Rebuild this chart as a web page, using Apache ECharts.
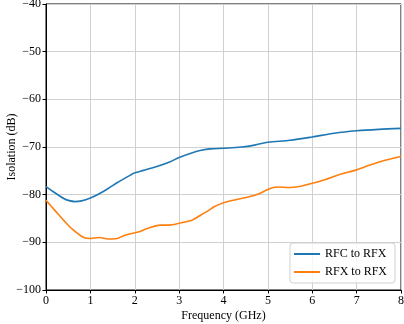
<!DOCTYPE html>
<html><head><meta charset="utf-8">
<script src="https://cdn.jsdelivr.net/npm/echarts@6/dist/echarts.min.js"></script>
<style>html,body{margin:0;padding:0;background:#fff}#c{width:404px;height:324px}</style>
</head><body><div id="c"></div>
<script>
const seriesNames = ["RFC to RFX", "RFX to RFX"];
const freqBlue = [0,0.2,0.4,0.5,0.65,0.8,1.0,1.2,1.4,1.6,1.9,2.0,2.2,2.5,2.8,3.0,3.3,3.5,3.7,4.0,4.4,4.7,5.0,5.5,6.0,6.5,7.0,7.5,8.0];
const valBlue = [-78.3,-79.6,-80.8,-81.2,-81.45,-81.3,-80.7,-79.8,-78.7,-77.5,-75.9,-75.4,-74.9,-74.1,-73.1,-72.2,-71.2,-70.7,-70.4,-70.25,-70.0,-69.6,-69.0,-68.6,-67.9,-67.1,-66.6,-66.3,-66.1];
const freqOrange = [0,0.2,0.4,0.6,0.85,1.0,1.2,1.4,1.6,1.75,1.9,2.1,2.25,2.45,2.6,2.75,3.0,3.3,3.5,3.65,3.8,4.0,4.3,4.6,4.8,5.0,5.2,5.5,5.7,6.0,6.3,6.6,7.0,7.3,7.6,8.0];
const valOrange = [-81.2,-83.3,-85.4,-87.3,-89.0,-89.2,-89.0,-89.3,-89.2,-88.6,-88.2,-87.8,-87.2,-86.6,-86.4,-86.4,-86.0,-85.3,-84.2,-83.4,-82.5,-81.7,-81.0,-80.4,-79.8,-78.9,-78.4,-78.5,-78.3,-77.6,-76.8,-75.8,-74.8,-73.8,-72.9,-72.0];
const xTicks = [0,1,2,3,4,5,6,7,8];
const yTicks = [-100,-90,-80,-70,-60,-50,-40];

const font = "'Liberation Serif', 'Times New Roman', serif";
const chart = echarts.init(document.getElementById('c'), null, {renderer:'canvas'});
const fmtMinus = v => String(v).replace('-', '\u2212');
chart.setOption({
  animation:false,
  textStyle:{fontFamily:font},
  grid:{left:46,right:3,top:4,bottom:34,containLabel:false,outerBoundsMode:'none',
    show:true,borderColor:'#000',borderWidth:1,backgroundColor:'transparent'},
  xAxis:{type:'value',min:xTicks[0],max:xTicks[xTicks.length-1],interval:1,
    name:'Frequency (GHz)',nameLocation:'middle',nameGap:20,nameMoveOverlap:false,
    nameTextStyle:{fontFamily:font,fontSize:12,color:'#000'},
    axisLine:{show:true,lineStyle:{color:'#000',width:1}},
    axisTick:{show:true,length:3.5,lineStyle:{color:'#000'}},
    axisLabel:{fontFamily:font,fontSize:12,color:'#000',margin:5},
    splitLine:{show:true,lineStyle:{color:'#d0d0d0',width:1}}},
  yAxis:{type:'value',min:yTicks[0],max:yTicks[yTicks.length-1],interval:10,
    name:'Isolation (dB)',nameLocation:'middle',nameGap:28,nameMoveOverlap:false,
    nameTextStyle:{fontFamily:font,fontSize:12,color:'#000'},
    axisLine:{show:true,lineStyle:{color:'#000',width:1}},
    axisTick:{show:true,length:3.5,lineStyle:{color:'#000'}},
    axisLabel:{fontFamily:font,fontSize:12,color:'#000',margin:5,formatter:fmtMinus},
    splitLine:{show:true,lineStyle:{color:'#d0d0d0',width:1}}},
  legend:{right:9,bottom:41,orient:'vertical',itemWidth:26,itemHeight:2,itemGap:6,
    backgroundColor:'rgba(255,255,255,0.8)',borderColor:'#d0d0d0',borderWidth:1,borderRadius:3,
    padding:[5,8,5,4],
    textStyle:{fontFamily:font,fontSize:12,color:'#000'},
    icon:'rect',
    data:seriesNames},
  series:[
    {name:seriesNames[0],type:'line',showSymbol:false,symbol:'none',smooth:0.3,
      lineStyle:{color:'#1f77b4',width:1.6},itemStyle:{color:'#1f77b4'},
      data:freqBlue.map((f,i)=>[f,valBlue[i]])},
    {name:seriesNames[1],type:'line',showSymbol:false,symbol:'none',smooth:0.3,
      lineStyle:{color:'#ff7f0e',width:1.6},itemStyle:{color:'#ff7f0e'},
      data:freqOrange.map((f,i)=>[f,valOrange[i]])}
  ]
});
</script></body></html>
